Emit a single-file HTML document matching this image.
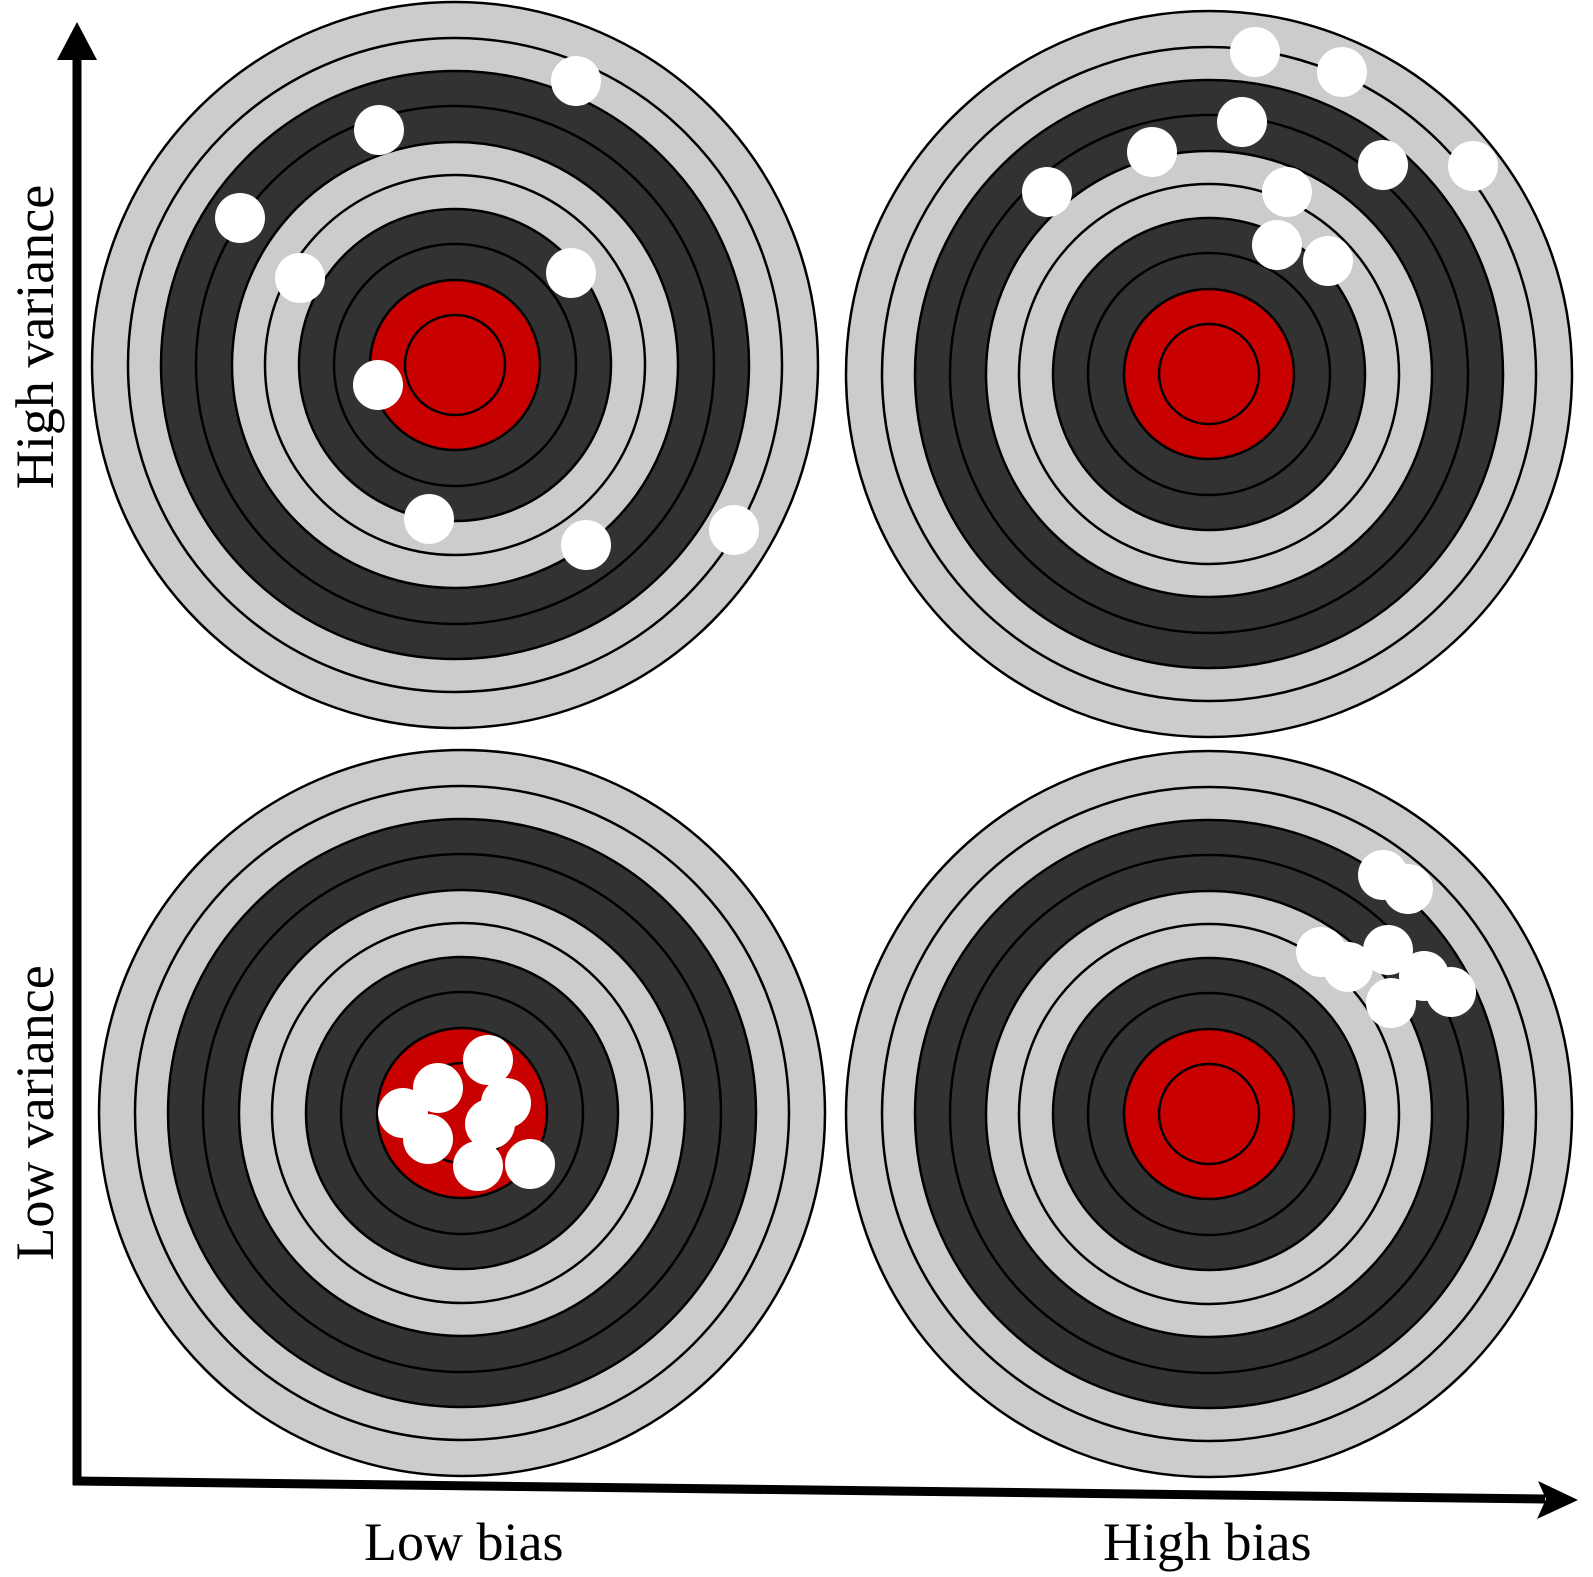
<!DOCTYPE html>
<html><head><meta charset="utf-8"><style>
html,body{margin:0;padding:0;background:#fff;}
svg{display:block;}
text{font-family:"Liberation Serif",serif;font-size:54px;fill:#000;}
</style></head><body>
<svg id="chart" width="1593" height="1577" viewBox="0 0 1593 1577" xmlns="http://www.w3.org/2000/svg">
<g id="targets"></g>
<g id="axes">
  <line x1="77" y1="1485" x2="77" y2="50" stroke="#000" stroke-width="9"/>
  <polygon points="77,22 57,60 97,60" fill="#000"/>
  <line x1="73" y1="1481" x2="1545" y2="1499" stroke="#000" stroke-width="9"/>
  <polygon points="1578,1500 1538,1481 1546,1499 1537,1519" fill="#000"/>
  <text x="364" y="1560">Low bias</text>
  <text x="1103" y="1560">High bias</text>
  <text transform="translate(53,337) rotate(-90)" text-anchor="middle">High variance</text>
  <text transform="translate(53,1113) rotate(-90)" text-anchor="middle">Low variance</text>
</g>
</svg>
<script>
const panels = ["low-bias-high-variance","high-bias-high-variance","low-bias-low-variance","high-bias-low-variance"];
const centersX = [455, 1209, 462, 1209];
const centersY = [365, 374, 1113, 1114];
const shotsX = [
  [576,379,240,300,571,378,429,586,734],
  [1255,1342,1242,1152,1383,1473,1047,1287,1277,1328],
  [488,438,506,403,490,428,478,530],
  [1383,1408,1321,1348,1388,1424,1451,1391]
];
const shotsY = [
  [81,130,218,278,273,385,519,545,530],
  [52,72,122,152,165,166,192,192,245,261],
  [1060,1088,1103,1113,1124,1139,1166,1164],
  [875,889,952,967,950,976,992,1003]
];
const ringRadii = [363,294,223,156,85];
const ringFills = ["#cccccc","#323232","#cccccc","#323232","#c80000"];
const lineRadii = [327,259,190,121,50];
const NS = "http://www.w3.org/2000/svg";
const root = document.getElementById("targets");
function circ(parent,cx,cy,r,fill,stroke,sw){
  const c=document.createElementNS(NS,"circle");
  c.setAttribute("cx",cx);c.setAttribute("cy",cy);c.setAttribute("r",r);
  c.setAttribute("fill",fill);
  if(stroke){c.setAttribute("stroke",stroke);c.setAttribute("stroke-width",sw);}
  parent.appendChild(c);return c;
}
panels.forEach((p,i)=>{
  const g=document.createElementNS(NS,"g");
  
  
  root.appendChild(g);
  const cx=centersX[i], cy=centersY[i];
  ringRadii.forEach((r,k)=>{
    const c=circ(g,cx,cy,r,ringFills[k],"#000",2.5);
    
    
  });
  lineRadii.forEach(r=>{
    const c=circ(g,cx,cy,r,"none","#000",2.5);
    
    
  });
  shotsX[i].forEach((x,j)=>{
    const c=circ(g,x,shotsY[i][j],25,"#ffffff");
    
    
  });
});
</script>
</body></html>
